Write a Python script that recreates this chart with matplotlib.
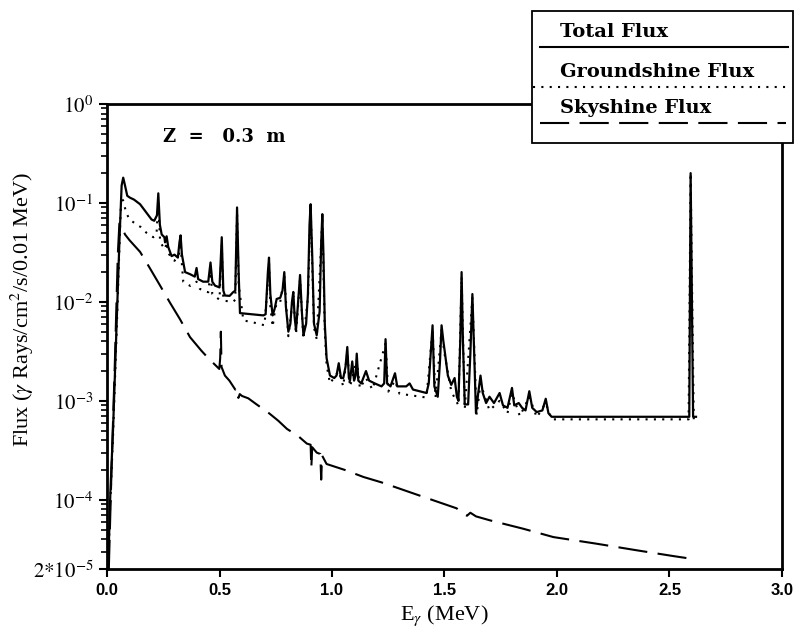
import matplotlib
matplotlib.use("Agg")
from matplotlib import pyplot as plt
from matplotlib.patches import Rectangle
from matplotlib.lines import Line2D

# total flux (solid) - energy in MeV, flux per 0.01 MeV
total_e = [0.005, 0.015, 0.027, 0.044, 0.055, 0.065, 0.072, 0.080, 0.090, 0.102,
           0.120, 0.147, 0.175, 0.198, 0.210, 0.222, 0.228, 0.235, 0.243, 0.255,
           0.258, 0.265, 0.272, 0.287, 0.300, 0.315, 0.322, 0.327, 0.333, 0.347,
           0.370, 0.390, 0.398, 0.405, 0.427, 0.450, 0.460, 0.468, 0.480, 0.500,
           0.510, 0.517, 0.524, 0.545, 0.560, 0.570, 0.578, 0.585, 0.591, 0.640,
           0.695, 0.705, 0.715, 0.720, 0.726, 0.736, 0.745, 0.754, 0.770, 0.780,
           0.788, 0.795, 0.806, 0.815, 0.822, 0.828, 0.834, 0.840, 0.848, 0.858,
           0.866, 0.873, 0.885, 0.893, 0.900, 0.905, 0.912, 0.920, 0.932, 0.945,
           0.952, 0.957, 0.962, 0.968, 0.976, 0.991, 1.010, 1.020, 1.030, 1.040,
           1.050, 1.060, 1.068, 1.075, 1.080, 1.090, 1.098, 1.105, 1.110, 1.117,
           1.130, 1.151, 1.165, 1.190, 1.220, 1.232, 1.238, 1.245, 1.260, 1.280,
           1.290, 1.330, 1.345, 1.360, 1.390, 1.420, 1.430, 1.447, 1.455, 1.470,
           1.480, 1.487, 1.495, 1.500, 1.515, 1.530, 1.545, 1.555, 1.562, 1.570,
           1.576, 1.582, 1.590, 1.605, 1.615, 1.624, 1.632, 1.640, 1.650, 1.660,
           1.670, 1.685, 1.700, 1.720, 1.745, 1.760, 1.780, 1.800, 1.810, 1.830,
           1.845, 1.860, 1.877, 1.890, 1.910, 1.935, 1.950, 1.962, 1.976, 2.200,
           2.400, 2.588, 2.594, 2.605, 2.618]
total_flux = [2.0e-5, 1.2e-4, 5.3e-4, 7.0e-3, 0.040, 0.150, 0.180, 0.150, 0.118, 0.113,
              0.108, 0.097, 0.080, 0.068, 0.066, 0.075, 0.125, 0.060, 0.048, 0.045,
              0.040, 0.046, 0.036, 0.029, 0.030, 0.028, 0.040, 0.047, 0.030, 0.020,
              0.019, 0.018, 0.022, 0.017, 0.016, 0.016, 0.025, 0.016, 0.0146, 0.014,
              0.045, 0.013, 0.0116, 0.0115, 0.0125, 0.013, 0.090, 0.020, 0.0077, 0.0075,
              0.0073, 0.0075, 0.020, 0.028, 0.012, 0.0073, 0.0085, 0.0107, 0.011, 0.013,
              0.020, 0.009, 0.005, 0.006, 0.010, 0.0126, 0.007, 0.0052, 0.009, 0.0187,
              0.008, 0.0046, 0.006, 0.012, 0.060, 0.097, 0.030, 0.006, 0.0046, 0.008,
              0.040, 0.077, 0.030, 0.006, 0.0027, 0.0018, 0.0017, 0.0018, 0.0024, 0.0017,
              0.0017, 0.0022, 0.0035, 0.0017, 0.0016, 0.0025, 0.0016, 0.0018, 0.0030, 0.0016,
              0.0015, 0.0020, 0.0016, 0.0015, 0.0014, 0.0015, 0.0042, 0.0015, 0.0014, 0.0019,
              0.0014, 0.0014, 0.0015, 0.0013, 0.00125, 0.0012, 0.0015, 0.0058, 0.0014, 0.0011,
              0.0025, 0.0058, 0.0040, 0.0033, 0.0018, 0.00145, 0.0017, 0.0011, 0.0010, 0.0040,
              0.020, 0.0040, 0.00092, 0.00092, 0.0030, 0.012, 0.0030, 0.00075, 0.0012, 0.0018,
              0.0012, 0.00095, 0.0011, 0.00095, 0.0012, 0.0009, 0.00085, 0.00135, 0.0009, 0.00095,
              0.00085, 0.0008, 0.00125, 0.00085, 0.00077, 0.0008, 0.00105, 0.00075, 0.00069, 0.00069,
              0.00069, 0.00069, 0.20, 0.00069, 0.00069]

# groundshine flux (dotted)
ground_e = [0.005, 0.015, 0.027, 0.044, 0.055, 0.063, 0.072, 0.085, 0.100, 0.125,
            0.150, 0.175, 0.206, 0.220, 0.228, 0.236, 0.258, 0.265, 0.272, 0.300,
            0.320, 0.327, 0.334, 0.339, 0.370, 0.398, 0.413, 0.450, 0.460, 0.468,
            0.500, 0.510, 0.517, 0.560, 0.570, 0.578, 0.585, 0.606, 0.650, 0.700,
            0.715, 0.720, 0.726, 0.736, 0.745, 0.754, 0.770, 0.788, 0.806, 0.828,
            0.840, 0.858, 0.873, 0.893, 0.905, 0.920, 0.932, 0.957, 0.968, 0.976,
            0.991, 1.030, 1.050, 1.068, 1.080, 1.110, 1.124, 1.151, 1.180, 1.238,
            1.250, 1.280, 1.300, 1.347, 1.420, 1.447, 1.460, 1.487, 1.500, 1.530,
            1.562, 1.576, 1.590, 1.624, 1.643, 1.660, 1.700, 1.745, 1.780, 1.800,
            1.835, 1.877, 1.910, 1.950, 1.976, 2.585, 2.594, 2.608, 2.618]
ground_flux = [2.0e-5, 1.0e-4, 4.5e-4, 6.0e-3, 0.035, 0.115, 0.105, 0.080, 0.068, 0.062,
               0.057, 0.050, 0.045, 0.048, 0.105, 0.040, 0.034, 0.040, 0.031, 0.026,
               0.030, 0.040, 0.022, 0.016, 0.0145, 0.016, 0.0135, 0.0125, 0.020, 0.012,
               0.0105, 0.038, 0.0103, 0.0100, 0.0105, 0.080, 0.015, 0.0065, 0.0062, 0.0058,
               0.016, 0.025, 0.009, 0.0056, 0.0078, 0.0098, 0.0100, 0.018, 0.0045, 0.0115,
               0.0047, 0.017, 0.0042, 0.011, 0.090, 0.0055, 0.0042, 0.070, 0.0050, 0.0023,
               0.0015, 0.0020, 0.0014, 0.0031, 0.00139, 0.0026, 0.00134, 0.0017, 0.0013, 0.0038,
               0.00124, 0.0016, 0.00118, 0.00114, 0.00108, 0.0053, 0.00108, 0.0052, 0.0030, 0.00125,
               0.00090, 0.018, 0.00082, 0.011, 0.00072, 0.0015, 0.00080, 0.0010, 0.00075, 0.0012,
               0.00070, 0.0011, 0.00068, 0.00095, 0.00065, 0.00065, 0.20, 0.00065, 0.00065]

# skyshine flux (dashed)
sky_e = [0.008, 0.020, 0.035, 0.048, 0.055, 0.065, 0.080, 0.100, 0.147, 0.190,
         0.236, 0.280, 0.324, 0.369, 0.420, 0.450, 0.499, 0.503, 0.506, 0.509,
         0.524, 0.544, 0.570, 0.573, 0.584, 0.590, 0.600, 0.628, 0.665, 0.720,
         0.761, 0.800, 0.850, 0.888, 0.905, 0.908, 0.912, 0.932, 0.948, 0.952,
         0.956, 0.976, 1.058, 1.140, 1.220, 1.391, 1.554, 1.580, 1.600, 1.615,
         1.640, 1.702, 1.850, 1.984, 2.176, 2.350, 2.517, 2.590]
sky_flux = [2.0e-5, 2.0e-4, 2.5e-3, 0.030, 0.062, 0.058, 0.048, 0.042, 0.032, 0.022,
            0.0146, 0.0098, 0.0067, 0.0044, 0.0032, 0.0027, 0.0021, 0.0027, 0.0050, 0.0022,
            0.0018, 0.0016, 0.0013, 0.00135, 0.00107, 0.00117, 0.00112, 0.00106, 0.00092, 0.00075,
            0.00063, 0.00052, 0.00044, 0.00037, 0.00036, 0.00021, 0.00034, 0.00030, 0.00029, 0.00016,
            0.00028, 0.00023, 0.00020, 0.00017, 0.00015, 0.00011, 8.2e-5, 7.3e-5, 6.9e-5, 7.4e-5,
            6.8e-5, 6.2e-5, 5.1e-5, 4.2e-5, 3.6e-5, 3.1e-5, 2.7e-5, 2.55e-5]

y_ticks = [2e-5, 1e-4, 1e-3, 1e-2, 1e-1, 1]
y_labels = [r"$2{*}10^{-5}$", r"$10^{-4}$", r"$10^{-3}$", r"$10^{-2}$", r"$10^{-1}$", r"$10^{0}$"]
x_ticks = [0.0, 0.5, 1.0, 1.5, 2.0, 2.5, 3.0]
legend_names = ["Total Flux", "Groundshine Flux", "Skyshine Flux"]

SERIF = "Liberation Serif"


def draw_legend(fig):
    # boxed legend in the top right corner, text above a sample line
    box = Rectangle((0.662, 0.776), 0.324, 0.207, transform=fig.transFigure,
                    facecolor="white", edgecolor="black", linewidth=1.3, zorder=5)
    fig.add_artist(box)

    styles = [dict(linestyle="-"),
              dict(linestyle=(0, (1, 3))),
              dict(linestyle=(0, (14, 5)))]
    text_y = [0.950, 0.887, 0.830]
    line_y = [0.926, 0.864, 0.807]
    line_x = [(0.672, 0.980), (0.663, 0.984), (0.672, 0.978)]
    for name, st, ty, ly, lx in zip(legend_names, styles, text_y, line_y, line_x):
        fig.text(0.697, ty, name, fontsize=14, fontweight="bold", family="DejaVu Serif",
                 va="center", ha="left", zorder=6)
        fig.add_artist(Line2D(list(lx), [ly, ly], transform=fig.transFigure,
                              color="black", linewidth=1.5, zorder=6, **st))


def main():
    plt.rcParams["mathtext.fontset"] = "stix"
    fig = plt.figure(figsize=(8.04, 6.37), dpi=100)
    ax = fig.add_axes([0.1331, 0.1068, 0.8395, 0.7300])

    ax.plot(sky_e, sky_flux, color="black", linewidth=1.5, linestyle=(0, (14, 5)))
    ax.plot(ground_e, ground_flux, color="black", linewidth=1.5, linestyle=(0, (1, 3)))
    ax.plot(total_e, total_flux, color="black", linewidth=1.6)

    ax.set_yscale("log")
    ax.set_xlim(0, 3.0)
    ax.set_ylim(2e-5, 1)

    ax.set_xticks(x_ticks)
    ax.set_xticklabels(["%.1f" % t for t in x_ticks], fontsize=12, fontweight="bold",
                       family="Liberation Sans")
    ax.set_yticks(y_ticks)
    ax.set_yticklabels(y_labels, fontsize=15)
    ax.tick_params(axis="both", which="major", direction="out", length=6, width=1.5, pad=4)
    ax.tick_params(axis="y", which="minor", direction="out", length=4, width=1.2)
    ax.tick_params(axis="x", which="minor", bottom=False)

    for sp in ax.spines.values():
        sp.set_linewidth(2.0)

    ax.text(0.083, 0.929, "Z  =   0.3  m", transform=ax.transAxes, fontsize=13,
            fontweight="bold", family="DejaVu Serif", va="center", ha="left")

    ax.set_xlabel(r"E$_\gamma$ (MeV)", fontsize=16, family=SERIF, labelpad=4)
    fig.text(0.028, 0.515, r"Flux ($\gamma$ Rays/cm$^2$/s/0.01 MeV)", rotation=90,
             fontsize=16, family=SERIF, va="center", ha="center")

    draw_legend(fig)
    fig.savefig("out.png", dpi=100)


if __name__ == "__main__":
    main()
